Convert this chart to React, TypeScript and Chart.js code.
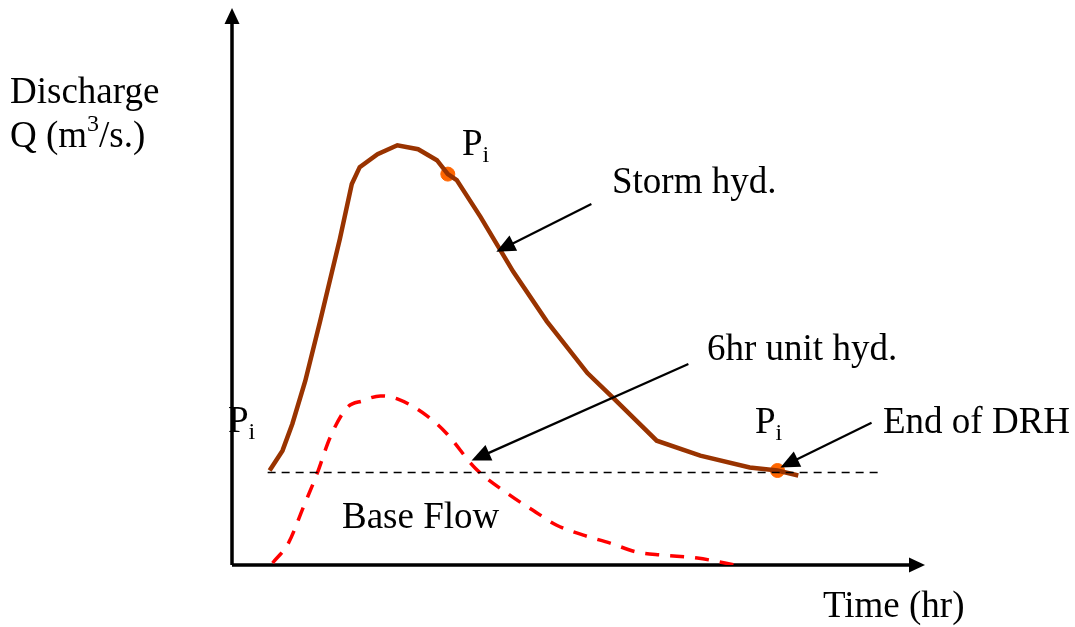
import React, { useEffect, useRef } from "react";
import { Chart, registerables } from "chart.js";

Chart.register(...registerables);

// Time (hr) / discharge values
const stormTime = [3.8, 5.1, 6.1, 7.4, 8.9, 10.9, 12.1, 12.9, 14.7, 16.7, 18.8, 20.7, 21.8, 22.7, 25.1, 28.4, 31.8, 35.9, 38.5, 42.9, 47.3, 52.3, 55.1, 57.2];
const stormQ = [9.5, 11.5, 14.2, 18.5, 24.5, 32.8, 38.3, 40.0, 41.3, 42.2, 41.8, 40.7, 39.3, 38.7, 35.0, 29.5, 24.5, 19.3, 16.8, 12.5, 11.0, 9.8, 9.5, 9.0];

const unitTime = [4.1, 5.7, 7.2, 8.6, 9.9, 11.6, 13.2, 15.0, 16.7, 19.7, 21.7, 24.6, 28.1, 30.4, 32.8, 35.5, 38.2, 40.9, 43.5, 47.0, 50.8];
const unitQ = [0.2, 2.2, 5.8, 9.2, 12.8, 15.8, 16.5, 17.0, 16.7, 15.0, 13.2, 9.7, 7.0, 5.5, 4.0, 3.0, 2.2, 1.3, 1.0, 0.7, 0.0];

const baseTime = [3.6, 65.5];
const baseQ = [9.3, 9.3];

const markTime = [21.8, 55.1];
const markQ = [39.3, 9.5];

// arrows: [tailT, tailQ, tipT, tipQ]
const arrowStorm = [36.3, 36.3, 26.7, 31.5];
const arrowUnit = [46.1, 20.2, 24.2, 10.5];
const arrowEnd = [64.6, 14.3, 55.4, 9.8];

const xMax = 70;
const yMax = 56;

const toPts = (xs: number[], ys: number[]) => xs.map((x, i) => ({ x, y: ys[i] }));

function drawArrowHead(ctx: CanvasRenderingContext2D, x1: number, y1: number, x2: number, y2: number, len: number, half: number) {
  const a = Math.atan2(y2 - y1, x2 - x1);
  ctx.beginPath();
  ctx.moveTo(x2, y2);
  ctx.lineTo(x2 - len * Math.cos(a) + half * Math.sin(a), y2 - len * Math.sin(a) - half * Math.cos(a));
  ctx.lineTo(x2 - len * Math.cos(a) - half * Math.sin(a), y2 - len * Math.sin(a) + half * Math.cos(a));
  ctx.closePath();
  ctx.fill();
}

const decorPlugin = {
  id: "decor",
  beforeDatasetsDraw(chart: any) {
    const ctx = chart.ctx as CanvasRenderingContext2D;
    const { left, right, top, bottom } = chart.chartArea;
    ctx.save();
    ctx.strokeStyle = "#000";
    ctx.fillStyle = "#000";
    ctx.lineWidth = 3.5;
    ctx.beginPath();
    ctx.moveTo(left, bottom);
    ctx.lineTo(left, top + 12);
    ctx.moveTo(left, bottom);
    ctx.lineTo(right - 12, bottom);
    ctx.stroke();
    drawArrowHead(ctx, left, bottom, left, top, 16, 7.5);
    drawArrowHead(ctx, left, bottom, right, bottom, 16, 7.5);
    ctx.restore();
  },
  afterDatasetsDraw(chart: any) {
    const ctx = chart.ctx as CanvasRenderingContext2D;
    const xs = chart.scales.x;
    const ys = chart.scales.y;
    ctx.save();
    ctx.strokeStyle = "#000";
    ctx.fillStyle = "#000";
    ctx.lineWidth = 2.2;
    for (const a of [arrowStorm, arrowUnit, arrowEnd]) {
      const x1 = xs.getPixelForValue(a[0]);
      const y1 = ys.getPixelForValue(a[1]);
      const x2 = xs.getPixelForValue(a[2]);
      const y2 = ys.getPixelForValue(a[3]);
      const ang = Math.atan2(y2 - y1, x2 - x1);
      ctx.beginPath();
      ctx.moveTo(x1, y1);
      ctx.lineTo(x2 - 14 * Math.cos(ang), y2 - 14 * Math.sin(ang));
      ctx.stroke();
      drawArrowHead(ctx, x1, y1, x2, y2, 19, 8.5);
    }

    const big = "37px 'Liberation Serif', 'Times New Roman', serif";
    const sub = "24px 'Liberation Serif', 'Times New Roman', serif";
    ctx.textBaseline = "alphabetic";
    ctx.textAlign = "left";
    ctx.font = big;
    ctx.fillText("Discharge", 10, 103);
    ctx.fillText("Q (m", 10, 147);
    const w1 = ctx.measureText("Q (m").width;
    ctx.font = sub;
    ctx.fillText("3", 10 + w1, 131);
    const w2 = ctx.measureText("3").width;
    ctx.font = big;
    ctx.fillText("/s.)", 10 + w1 + w2, 147);

    ctx.fillText("Storm hyd.", 612, 193);
    ctx.fillText("6hr unit hyd.", 707, 360);
    ctx.fillText("End of DRH", 883, 433);
    ctx.fillText("Time (hr)", 823, 617);
    ctx.fillText("Base Flow", 342, 528);

    const pLabels = [
      [462, 155],
      [228, 432],
      [755, 433],
    ];
    for (const [px, py] of pLabels) {
      ctx.font = big;
      ctx.fillText("P", px, py);
      const pw = ctx.measureText("P").width;
      ctx.font = sub;
      ctx.fillText("i", px + pw, py + 7);
    }
    ctx.restore();
  },
};

export default function App() {
  const ref = useRef<HTMLCanvasElement | null>(null);
  useEffect(() => {
    if (!ref.current) return;
    const chart = new Chart(ref.current, {
      type: "line",
      data: {
        datasets: [
          {
            label: "Base flow",
            data: toPts(baseTime, baseQ),
            borderColor: "#000",
            borderWidth: 1.5,
            borderDash: [8, 6],
            pointRadius: 0,
            tension: 0,
          },
          {
            label: "6hr unit hyd.",
            data: toPts(unitTime, unitQ),
            borderColor: "#FF0000",
            borderWidth: 3.5,
            borderDash: [14, 11],
            pointRadius: 0,
            tension: 0.3,
            cubicInterpolationMode: "monotone",
          },
          {
            label: "Storm hyd.",
            data: toPts(stormTime, stormQ),
            borderColor: "#993300",
            borderWidth: 4.5,
            pointRadius: 0,
            tension: 0,
          },
          {
            label: "Pi",
            data: toPts(markTime, markQ),
            showLine: false,
            pointRadius: 7,
            pointBackgroundColor: "#FF6600",
            pointBorderColor: "#FF6600",
            borderColor: "#FF6600",
          },
        ],
      },
      options: {
        responsive: false,
        animation: false,
        layout: { padding: { left: 232, right: 150, top: 5, bottom: 62 } },
        plugins: { legend: { display: false }, tooltip: { enabled: false } },
        scales: {
          x: { type: "linear", min: 0, max: xMax, display: false },
          y: { type: "linear", min: 0, max: yMax, display: false },
        },
      },
      plugins: [decorPlugin],
    });
    return () => chart.destroy();
  }, []);
  return (
    <div style={{ position: "absolute", left: 0, top: 0, width: 1075, height: 627, background: "#fff" }}>
      <canvas ref={ref} width={1075} height={627} style={{ width: 1075, height: 627 }} />
    </div>
  );
}
